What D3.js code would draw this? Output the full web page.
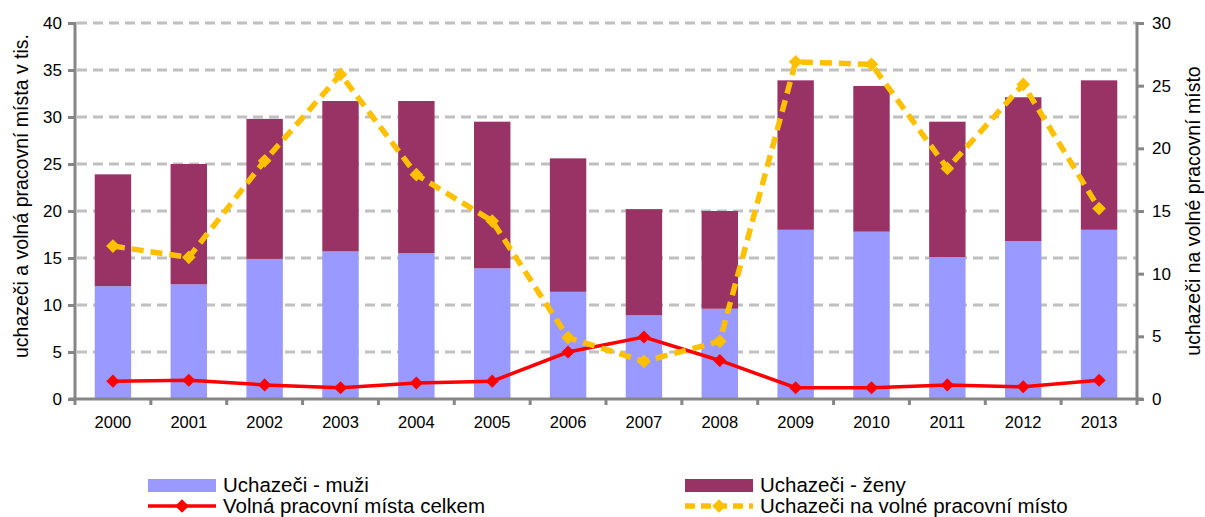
<!DOCTYPE html>
<html>
<head>
<meta charset="utf-8">
<script src="https://cdn.jsdelivr.net/npm/d3@7"></script>
<style>
  body { margin: 0; background: #fff; }
  text { font-family: "Liberation Sans", Arial, sans-serif; fill: #000; }
</style>
</head>
<body>
<div id="chart"></div>
<script>
// data
var years = ["2000", "2001", "2002", "2003", "2004", "2005", "2006",
    "2007", "2008", "2009", "2010", "2011", "2012", "2013"];
var men = [12.0, 12.2, 14.9, 15.7, 15.5, 13.9, 11.4, 8.9, 9.6, 18.0, 17.8, 15.1, 16.8, 18.0];
var women = [11.9, 12.8, 14.9, 16.0, 16.2, 15.6, 14.2, 11.3, 10.4, 15.9, 15.5, 14.4, 15.3, 15.9];
var vacancies = [1.9, 2.0, 1.5, 1.2, 1.7, 1.9, 5.0, 6.6, 4.1, 1.2, 1.2, 1.5, 1.3, 2.0];
var perVacancy = [12.2, 11.3, 19.0, 25.9, 17.9, 14.2, 4.9, 3.0, 4.6, 26.9, 26.7, 18.4, 25.1, 15.2];
var leftTicks = [0, 5, 10, 15, 20, 25, 30, 35, 40];
var rightTicks = [0, 5, 10, 15, 20, 25, 30];

var width = 1205, height = 517;
var margin = {left: 75, right: 68, top: 23, bottom: 118};

var svg = d3.select("#chart").append("svg")
    .attr("width", width)
    .attr("height", height);

var x = d3.scaleBand()
    .domain(years)
    .range([margin.left, width - margin.right])
    .paddingInner(0.52)
    .paddingOuter(0.26);

var y = d3.scaleLinear().domain([0, 40]).range([height - margin.bottom, margin.top]);
var y2 = d3.scaleLinear().domain([0, 30]).range([height - margin.bottom, margin.top]);

var axisColor = "#868686";

// gridlines
svg.append("g")
    .selectAll("line")
    .data(leftTicks.filter(function (d) { return d > 0; }))
    .enter()
    .append("line")
    .attr("x1", margin.left + 2)
    .attr("x2", width - margin.right)
    .attr("y1", function (d) { return y(d); })
    .attr("y2", function (d) { return y(d); })
    .attr("stroke", "#c0c0c0")
    .attr("stroke-width", 3)
    .attr("stroke-dasharray", "10,6");

// stacked bars
var stacked = years.map(function (yr, i) {
    return {year: yr, men: men[i], women: women[i]};
});
var series = d3.stack().keys(["men", "women"])(stacked);
var barColors = {men: "#9999ff", women: "#993366"};

svg.append("g")
    .selectAll("g")
    .data(series)
    .enter()
    .append("g")
    .attr("fill", function (d) { return barColors[d.key]; })
    .selectAll("rect")
    .data(function (d) { return d; })
    .enter()
    .append("rect")
    .attr("x", function (d) { return x(d.data.year); })
    .attr("width", x.bandwidth())
    .attr("y", function (d) { return y(d[1]); })
    .attr("height", function (d) { return y(d[0]) - y(d[1]); });

// axes
var xAxis = svg.append("g")
    .attr("transform", "translate(0," + y(0) + ")");
xAxis.append("line")
    .attr("x1", margin.left - 6).attr("x2", width - margin.right + 6)
    .attr("stroke", axisColor).attr("stroke-width", 3);
var bounds = d3.range(years.length + 1).map(function (i) {
    return margin.left + i * x.step();
});
xAxis.selectAll(".tk")
    .data(bounds)
    .enter()
    .append("line")
    .attr("x1", function (d) { return d; })
    .attr("x2", function (d) { return d; })
    .attr("y1", 0).attr("y2", 6)
    .attr("stroke", axisColor).attr("stroke-width", 3);
xAxis.selectAll("text")
    .data(years)
    .enter()
    .append("text")
    .attr("x", function (d) { return x(d) + x.bandwidth() / 2; })
    .attr("y", 29)
    .attr("text-anchor", "middle")
    .style("font-size", "16.5px")
    .text(function (d) { return d; });

var leftAxis = svg.append("g")
    .attr("transform", "translate(" + margin.left + ",0)")
    .call(d3.axisLeft(y).tickValues(leftTicks).tickSize(7).tickPadding(6));
var rightAxis = svg.append("g")
    .attr("transform", "translate(" + (width - margin.right) + ",0)")
    .call(d3.axisRight(y2).tickValues(rightTicks).tickSize(7).tickPadding(8));

[leftAxis, rightAxis].forEach(function (a) {
    a.select(".domain").attr("stroke", axisColor).attr("stroke-width", 3)
        .attr("d", "M0," + (y(0) + 1) + "V" + (margin.top - 1));
    a.selectAll(".tick line").attr("stroke", axisColor).attr("stroke-width", 3);
    a.selectAll(".tick text").style("font-size", "17px").attr("fill", "#000")
        .style("font-family", "Liberation Sans, Arial, sans-serif");
});

// lines
var diamond = d3.symbol().type(d3.symbolDiamond2);
function cx(i) { return x(years[i]) + x.bandwidth() / 2; }

var redLine = d3.line()
    .x(function (d, i) { return cx(i); })
    .y(function (d) { return y(d); });
svg.append("path")
    .attr("d", redLine(vacancies))
    .attr("fill", "none")
    .attr("stroke", "#ff0000")
    .attr("stroke-width", 3.5);
svg.append("g")
    .selectAll("path")
    .data(vacancies)
    .enter()
    .append("path")
    .attr("d", diamond.size(110))
    .attr("transform", function (d, i) { return "translate(" + cx(i) + "," + y(d) + ")"; })
    .attr("fill", "#ff0000");

var yellowLine = d3.line()
    .x(function (d, i) { return cx(i); })
    .y(function (d) { return y2(d); });
svg.append("path")
    .attr("d", yellowLine(perVacancy))
    .attr("fill", "none")
    .attr("stroke", "#ffc000")
    .attr("stroke-width", 5.5)
    .attr("stroke-dasharray", "12,7");
svg.append("g")
    .selectAll("path")
    .data(perVacancy)
    .enter()
    .append("path")
    .attr("d", diamond.size(120))
    .attr("transform", function (d, i) { return "translate(" + cx(i) + "," + y2(d) + ")"; })
    .attr("fill", "#ffc000");

// axis titles
svg.append("text")
    .attr("transform", "translate(28," + 196 + ") rotate(-90)")
    .attr("text-anchor", "middle")
    .style("font-size", "19.5px")
    .text("uchazeči a volná pracovní místa v tis.");
svg.append("text")
    .attr("transform", "translate(1200," + 211 + ") rotate(-90)")
    .attr("text-anchor", "middle")
    .style("font-size", "19.5px")
    .text("uchazeči na volné pracovní místo");

// legend
var legend = [
    {label: "Uchazeči - muži", type: "rect", color: "#9999ff", x: 148, y: 485},
    {label: "Uchazeči - ženy", type: "rect", color: "#993366", x: 685, y: 485},
    {label: "Volná pracovní místa celkem", type: "line", color: "#ff0000", x: 148, y: 506},
    {label: "Uchazeči na volné pracovní místo", type: "dash", color: "#ffc000", x: 685, y: 506}
];
var lg = svg.append("g").selectAll("g")
    .data(legend)
    .enter()
    .append("g")
    .attr("transform", function (d) { return "translate(" + d.x + "," + d.y + ")"; });
lg.filter(function (d) { return d.type === "rect"; })
    .append("rect")
    .attr("x", 0).attr("y", -6).attr("width", 68).attr("height", 13)
    .attr("fill", function (d) { return d.color; });
lg.filter(function (d) { return d.type !== "rect"; })
    .append("line")
    .attr("x1", 0).attr("x2", 68)
    .attr("stroke", function (d) { return d.color; })
    .attr("stroke-width", function (d) { return d.type === "dash" ? 5.5 : 3.5; })
    .attr("stroke-dasharray", function (d) { return d.type === "dash" ? "10,6" : null; });
lg.filter(function (d) { return d.type !== "rect"; })
    .append("path")
    .attr("d", diamond.size(120))
    .attr("transform", "translate(34,0)")
    .attr("fill", function (d) { return d.color; });
lg.append("text")
    .attr("x", 75)
    .attr("y", 7)
    .style("font-size", "20.5px")
    .text(function (d) { return d.label; });
</script>
</body>
</html>
